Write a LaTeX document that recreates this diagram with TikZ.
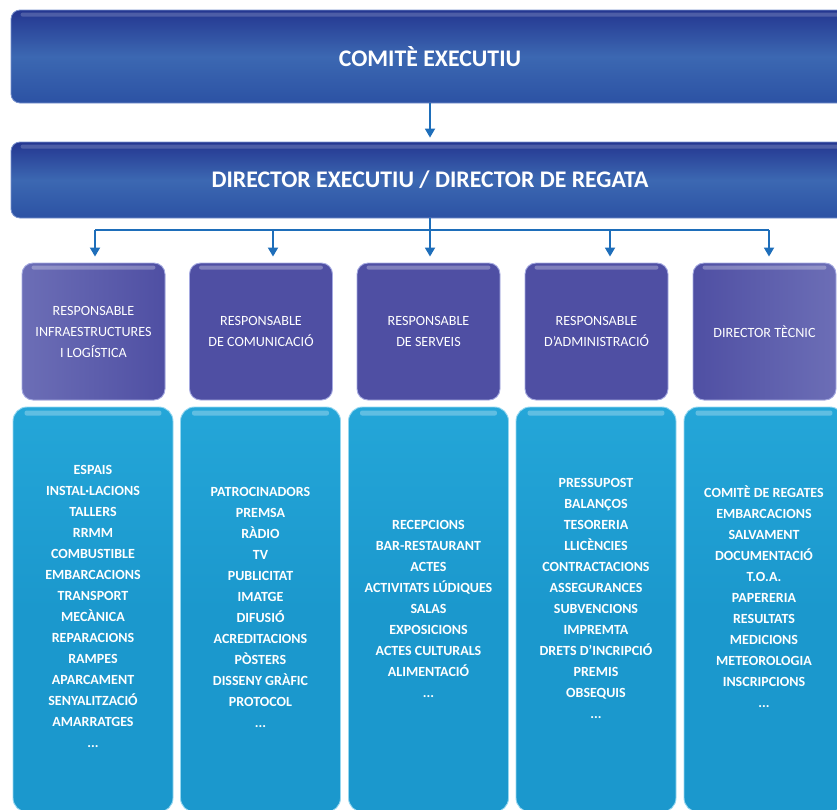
\documentclass[tikz,border=0pt]{standalone}
\usepackage{fontspec}
\setmainfont{Carlito}
\usetikzlibrary{arrows.meta}
\definecolor{navytop}{RGB}{36,54,144}
\definecolor{navymid}{RGB}{60,104,178}
\definecolor{navybot}{RGB}{44,82,164}
\definecolor{purp}{RGB}{79,79,163}
\definecolor{purplight}{RGB}{108,110,182}
\definecolor{cyanbox}{RGB}{27,152,205}
\definecolor{cyantop}{RGB}{36,166,216}
\definecolor{arrowblue}{RGB}{30,110,186}
\newcommand{\apos}{{\char"0027}}
\tikzset{
  bar/.style={rounded corners=9pt, top color=navytop, bottom color=navybot, middle color=navymid,
    draw={rgb,255:red,120;green,145;blue,205}, line width=0.8pt, minimum width=838pt,
    text=white, font=\fontsize{23.8}{26}\selectfont\bfseries, inner sep=0pt},
  purplebox/.style={rounded corners=11pt, fill=purp, draw={rgb,255:red,165;green,170;blue,225},
    line width=0.9pt, minimum width=143pt, minimum height=137pt, inner sep=0pt},
  bluebox/.style={rounded corners=14pt, top color=cyantop, bottom color=cyanbox, middle color=cyanbox,
    draw={rgb,255:red,150;green,215;blue,240}, line width=0.9pt, minimum width=160pt, minimum height=405pt, inner sep=0pt},
  purpletext/.style={text=white, align=center, font=\fontsize{14.1}{21}\selectfont, inner sep=0pt},
  listtext/.style={text=white, align=center, font=\fontsize{14}{21}\selectfont\bfseries, inner sep=0pt},
  arr/.style={draw=arrowblue, line width=1.8pt, -{Triangle[length=9pt,width=10pt]}},
  busline/.style={draw=arrowblue, line width=1.8pt},
  gloss/.style={fill=white, opacity=0.28, rounded corners=2pt}
}
\begin{document}
\begin{tikzpicture}[x=1pt,y=-1pt]
\useasboundingbox (0,0) rectangle (837,809);
\clip (0,0) rectangle (837,809);

% top bars
\node[bar, minimum height=93pt] (comite) at (430,56.5) {COMITÈ EXECUTIU};
\node[bar, minimum height=76pt] (dir) at (430,180) {DIRECTOR EXECUTIU / DIRECTOR DE REGATA};

% purple boxes
\node[purplebox, left color=purplight, right color=purp] (p1) at (93.5,331.5) {};
\node[purplebox] (p2) at (261,331.5) {};
\node[purplebox] (p3) at (428.5,331.5) {};
\node[purplebox] (p4) at (596.5,331.5) {};
\node[purplebox, left color=purp, right color=purplight] (p5) at (764.5,331.5) {};

\node[purpletext] (t1) at (p1.center) {RESPONSABLE\\INFRAESTRUCTURES\\I LOGÍSTICA};
\node[purpletext] (t2) at (p2.center) {RESPONSABLE\\DE COMUNICACIÓ};
\node[purpletext] (t3) at (p3.center) {RESPONSABLE\\DE SERVEIS};
\node[purpletext] (t4) at (p4.center) {RESPONSABLE\\D\apos ADMINISTRACIÓ};
\node[purpletext] (t5) at (p5.center) {DIRECTOR TÈCNIC};

% blue boxes
\node[bluebox] (c1) at (93,609.5) {};
\node[bluebox] (c2) at (260.5,609.5) {};
\node[bluebox] (c3) at (428.5,609.5) {};
\node[bluebox] (c4) at (596,609.5) {};
\node[bluebox] (c5) at (764,609.5) {};

% gloss highlights
\foreach \n in {p1,p2,p3,p4,p5}{
  \fill[gloss] ([xshift=10pt,yshift=-3pt]\n.north west) rectangle ([xshift=-10pt,yshift=-7pt]\n.north east);
}
\foreach \n in {c1,c2,c3,c4,c5}{
  \fill[gloss] ([xshift=12pt,yshift=-4pt]\n.north west) rectangle ([xshift=-12pt,yshift=-9pt]\n.north east);
}
\fill[gloss, opacity=0.18] ([xshift=10pt,yshift=-3pt]comite.north west) rectangle ([xshift=-10pt,yshift=-7pt]comite.north east);
\fill[gloss, opacity=0.18] ([xshift=10pt,yshift=-3pt]dir.north west) rectangle ([xshift=-10pt,yshift=-7pt]dir.north east);

% lists
\node[listtext] (l1) at (93,606) {ESPAIS\\INSTAL·LACIONS\\TALLERS\\RRMM\\COMBUSTIBLE\\EMBARCACIONS\\TRANSPORT\\MECÀNICA\\REPARACIONS\\RAMPES\\APARCAMENT\\SENYALITZACIÓ\\AMARRATGES\\...};
\node[listtext] (l2) at (260.5,607) {PATROCINADORS\\PREMSA\\RÀDIO\\TV\\PUBLICITAT\\IMATGE\\DIFUSIÓ\\ACREDITACIONS\\PÒSTERS\\DISSENY GRÀFIC\\PROTOCOL\\...};
\node[listtext] (l3) at (428.5,609) {RECEPCIONS\\BAR-RESTAURANT\\ACTES\\ACTIVITATS LÚDIQUES\\SALAS\\EXPOSICIONS\\ACTES CULTURALS\\ALIMENTACIÓ\\...};
\node[listtext] (l4) at (596,598) {PRESSUPOST\\BALANÇOS\\TESORERIA\\LLICÈNCIES\\CONTRACTACIONS\\ASSEGURANCES\\SUBVENCIONS\\IMPREMTA\\DRETS D\apos INCRIPCIÓ\\PREMIS\\OBSEQUIS\\...};
\node[listtext] (l5) at (764,597) {COMITÈ DE REGATES\\EMBARCACIONS\\SALVAMENT\\DOCUMENTACIÓ\\T.O.A.\\PAPERERIA\\RESULTATS\\MEDICIONS\\METEOROLOGIA\\INSCRIPCIONS\\...};

% connectors
\draw[arr, shorten >=4pt] (comite.south) -- (dir.north);
\coordinate (b1) at (95,230);
\coordinate (b2) at (273,230);
\coordinate (b3) at (430,230);
\coordinate (b4) at (610,230);
\coordinate (b5) at (769,230);
\draw[busline] (b1) -- (b5);
\draw[arr, shorten >=6pt] (dir.south) -- (b3 |- p3.north);
\draw[arr, shorten >=6pt] (b1) -- (b1 |- p1.north);
\draw[arr, shorten >=6pt] (b2) -- (b2 |- p2.north);
\draw[arr, shorten >=6pt] (b4) -- (b4 |- p4.north);
\draw[arr, shorten >=6pt] (b5) -- (b5 |- p5.north);
\end{tikzpicture}
\end{document}
